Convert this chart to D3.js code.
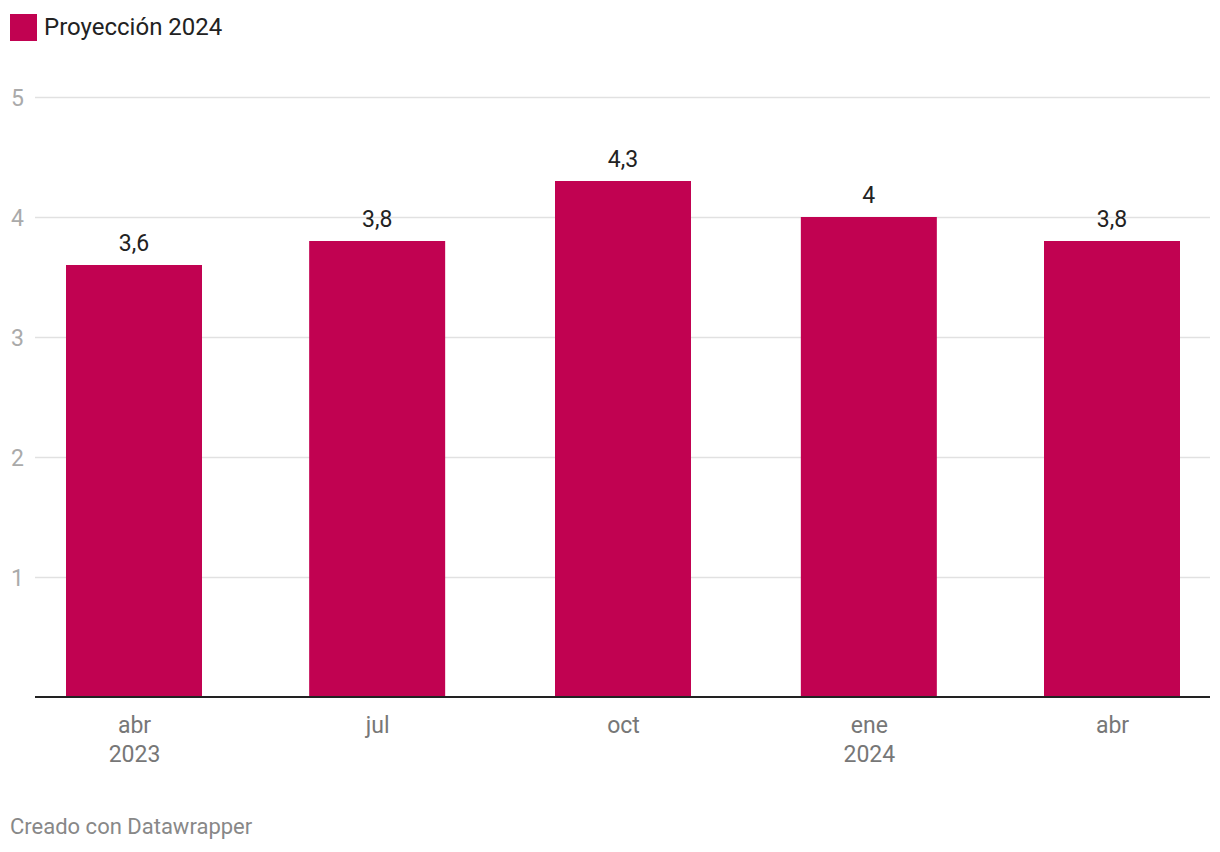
<!DOCTYPE html>
<html><head><meta charset="utf-8">
<script src="https://cdn.jsdelivr.net/npm/d3@7"></script>
<style>body{margin:0;background:#fff;font-family:Roboto,sans-serif;}</style>
</head><body>
<svg id="c" width="1220" height="852"></svg>
<script>
const dates = ["2023-04-01","2023-07-01","2023-10-01","2024-01-01","2024-04-01"];
const values = [3.6, 3.8, 4.3, 4.0, 3.8];
const monthLabels = ["abr","jul","oct","ene","abr"];
const yearLabels = ["2023","","","2024",""];
const yTicks = [1,2,3,4,5];
const seriesName = "Proyección 2024";

const parse = d3.utcParse("%Y-%m-%d");
const color = "#c10251";
const svg = d3.select("#c");
const x = d3.scaleUtc().domain([parse(dates[0]), parse(dates[dates.length-1])]).range([134,1112]);
const y = d3.scaleLinear().domain([0,5]).range([697,97]);
const bw = 136, left = 35, right = 1210;

// legend
svg.append("rect").attr("x",10).attr("y",14).attr("width",27).attr("height",27).attr("fill",color);
svg.append("text").attr("x",44).attr("y",35).attr("font-size",24).attr("fill","#222").text(seriesName);

// grid
const yAxis = d3.axisLeft(y).tickValues(yTicks).tickSize(-(right-left)).tickFormat(d3.format("d"));
const gy = svg.append("g").attr("transform",`translate(${left},0)`).call(yAxis);
gy.select(".domain").remove();
gy.selectAll(".tick line").attr("stroke","#e1e1e1").attr("stroke-width",1.3);
gy.selectAll(".tick text").attr("x",-24).attr("dy","0.35em").attr("text-anchor","start").attr("font-size",23)
  .attr("font-family","Roboto").attr("fill","#aaa");

// bars
svg.append("g").selectAll("rect").data(values).join("rect")
  .attr("x",(d,i)=>x(parse(dates[i]))-bw/2).attr("width",bw)
  .attr("y",d=>y(d)).attr("height",d=>y(0)-y(d)).attr("fill",color);

// value labels
const fmt = v => d3.format("~r")(v).replace(".",",");
svg.append("g").selectAll("text").data(values).join("text")
  .attr("x",(d,i)=>x(parse(dates[i]))).attr("y",d=>y(d)-14)
  .attr("text-anchor","middle").attr("font-size",23).attr("fill","#222").text(d=>fmt(d));

// x axis
const xAxis = d3.axisBottom(x).tickValues(dates.map(parse)).tickSize(0).tickFormat((d,i)=>monthLabels[i]);
const gx = svg.append("g").attr("transform",`translate(0,${y(0)})`).call(xAxis);
gx.select(".domain").remove();
gx.selectAll(".tick text").attr("dy",null).attr("y",36).attr("font-size",23).attr("font-family","Roboto").attr("fill","#777");
gx.selectAll(".tick").append("text").attr("y",65).attr("text-anchor","middle").attr("font-size",23)
  .attr("font-family","Roboto").attr("fill","#777").text((d,i)=>yearLabels[i]);
svg.append("line").attr("x1",left).attr("x2",right).attr("y1",y(0)).attr("y2",y(0)).attr("stroke","#222").attr("stroke-width",2);

// footer
svg.append("text").attr("x",10).attr("y",834).attr("font-size",22).attr("fill","#888").text("Creado con Datawrapper");
</script>
</body></html>
